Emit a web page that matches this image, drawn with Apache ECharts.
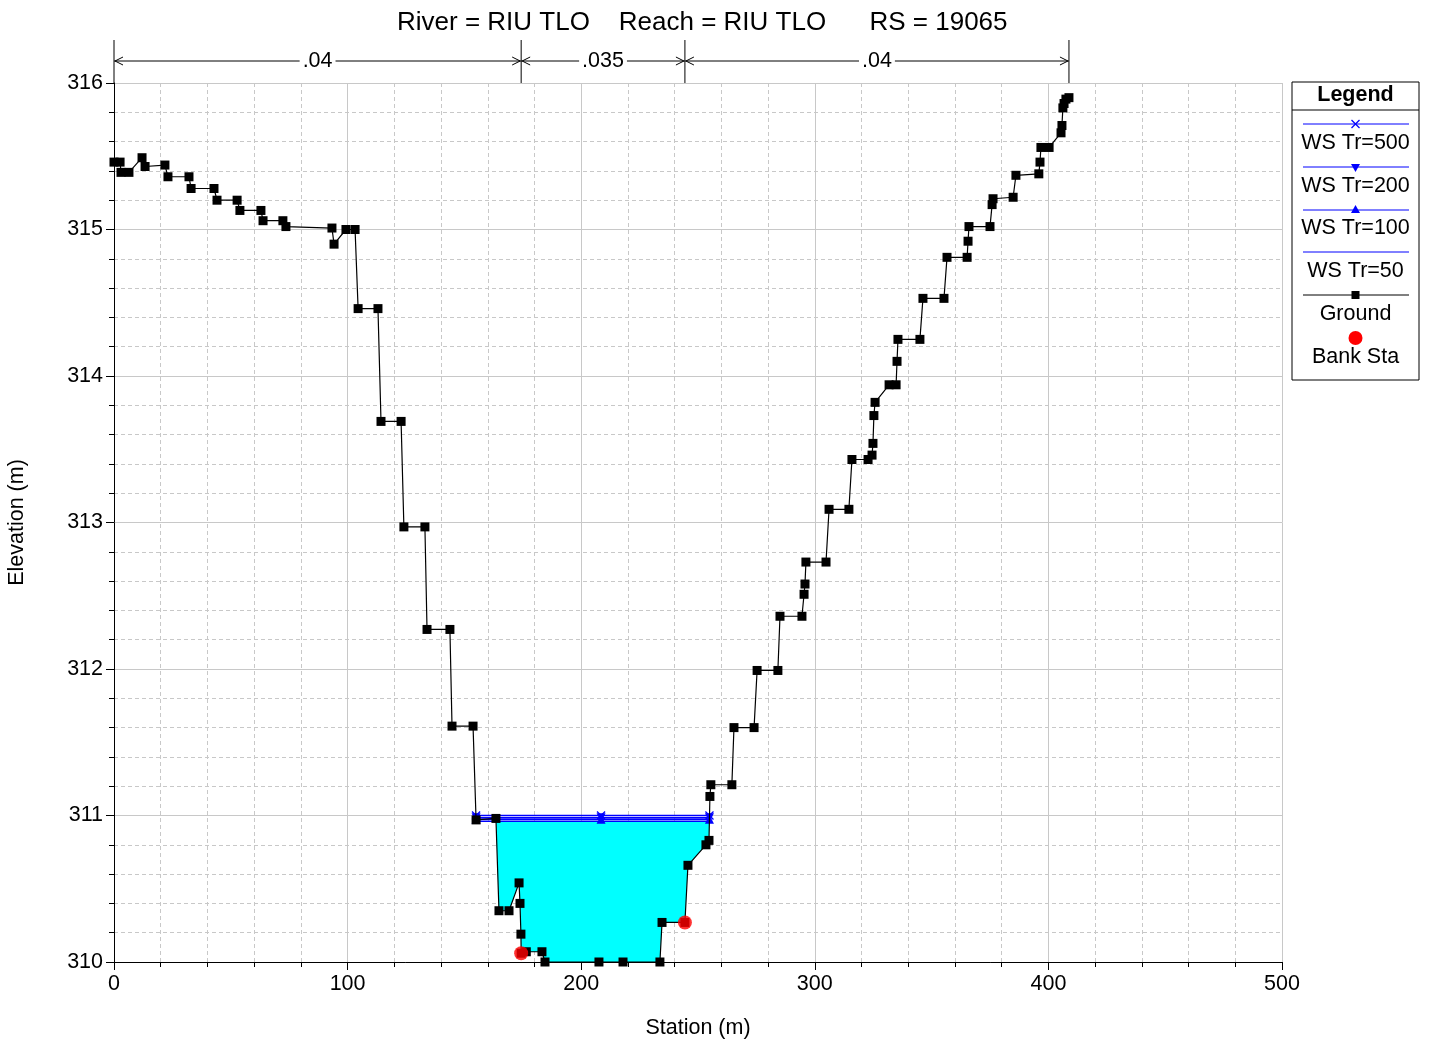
<!DOCTYPE html>
<html>
<head>
<meta charset="utf-8">
<script src="https://cdn.jsdelivr.net/npm/echarts@6/dist/echarts.min.js"></script>
<style>html,body{margin:0;background:#fff}#main{width:1430px;height:1044px}</style>
</head>
<body>
<div id="main"></div>
<script>
// ground profile (station m, elevation m)
var groundSta = [0, 2.6, 3.0, 6.4, 12.0, 13.3, 21.8, 23.1, 32.1, 33.0, 42.8, 44.1, 52.7, 53.9, 62.9, 63.8,
	72.3, 73.6, 93.3, 94.2, 99.3, 103.2, 104.5, 113.0, 114.3, 122.9, 124.1, 133.1, 134.0, 143.8, 144.7, 153.7,
	155.0, 163.5, 164.8, 169.1, 173.4, 173.8, 174.2, 174.3, 176.5, 183.2, 184.5, 207.6, 217.9, 233.7, 234.6,
	244.4, 245.7, 253.4, 254.7, 255.1, 255.5, 264.5, 265.4, 274.0, 275.3, 284.2, 285.1, 294.5, 295.4, 295.8,
	296.2, 304.8, 306.1, 314.6, 315.9, 322.8, 324.5, 324.9, 325.3, 325.8, 331.8, 334.8, 335.2, 335.6, 345.0,
	346.3, 355.3, 356.6, 365.2, 365.6, 366.0, 375.0, 375.9, 376.3, 384.9, 386.1, 395.9, 396.4, 396.8, 400.3,
	405.4, 405.8, 406.2, 406.7, 407.5, 408.8];
var groundElev = [315.46, 315.46, 315.39, 315.39, 315.49, 315.43, 315.44, 315.36, 315.36, 315.28, 315.28, 315.20, 315.20, 315.13, 315.13, 315.06,
	315.06, 315.02, 315.01, 314.90, 315.00, 315.00, 314.46, 314.46, 313.69, 313.69, 312.97, 312.97, 312.27, 312.27, 311.61, 311.61,
	310.97, 310.98, 310.35, 310.35, 310.54, 310.40, 310.19, 310.06, 310.07, 310.07, 310.00, 310.00, 310.00, 310.00, 310.27,
	310.27, 310.66, 310.80, 310.83, 311.13, 311.21, 311.21, 311.60, 311.60, 311.99, 311.99, 312.36, 312.36, 312.51, 312.58,
	312.73, 312.73, 313.09, 313.09, 313.43, 313.43, 313.46, 313.54, 313.73, 313.82, 313.94, 313.94, 314.10, 314.25, 314.25,
	314.53, 314.53, 314.81, 314.81, 314.92, 315.02, 315.02, 315.17, 315.21, 315.22, 315.37, 315.38, 315.46, 315.56, 315.56,
	315.66, 315.71, 315.83, 315.86, 315.89, 315.90];

var bankSta = [174.3, 244.4];
var bankElev = [310.06, 310.27];

// water surfaces
var wsNames = ['WS Tr=500', 'WS Tr=200', 'WS Tr=100', 'WS Tr=50'];
var wsElev = [311.00, 310.985, 310.975, 310.96];
var wsSta = [155.0, 208.5, 254.9];

// Manning's n between bank stations
var nValues = ['.04', '.035', '.04'];

var xTicks = [0, 100, 200, 300, 400, 500];
var yTicks = [310, 311, 312, 313, 314, 315, 316];

var FONT = 'Liberation Sans, Arial, sans-serif';
var FS = 21.5;

var dom = document.getElementById('main');
var myChart = echarts.init(dom);

var groundData = groundSta.map(function(s, i) { return [s, groundElev[i]]; });

// water polygon for the lowest profile, between the ground crossings around the thalweg
function waterPolygon(level) {
	var iMin = 0;
	for (var i = 1; i < groundElev.length; i++) {
		if (groundElev[i] < groundElev[iMin]) iMin = i;
	}
	var l = iMin, r = iMin;
	while (l > 0 && groundElev[l - 1] < level) l--;
	while (r < groundElev.length - 1 && groundElev[r + 1] < level) r++;
	function cross(a, b) {
		var t = (level - groundElev[a]) / (groundElev[b] - groundElev[a]);
		return groundSta[a] + t * (groundSta[b] - groundSta[a]);
	}
	var pts = [[cross(l, l - 1), level]];
	for (var k = l; k <= r; k++) pts.push([groundSta[k], groundElev[k]]);
	pts.push([cross(r, r + 1), level]);
	return pts;
}
var waterPts = waterPolygon(wsElev[3]);

var xSym = 'path://M0,1L1,0L5,4L9,0L10,1L6,5L10,9L9,10L5,6L1,10L0,9L4,5Z';
var wsSymbols = [xSym, 'triangle', 'triangle', 'none'];
var wsRotate = [0, 180, 0, 0];

var wsSeries = wsNames.map(function(name, i) {
	return {
		name: name,
		type: 'line',
		data: wsSta.map(function(s) { return [s, wsElev[i]]; }),
		symbol: wsSymbols[i],
		symbolRotate: wsRotate[i],
		symbolSize: 9,
		showSymbol: true,
		lineStyle: { color: '#0000ff', width: 1.5 },
		itemStyle: { color: '#0000ff' },
		z: 4
	};
});

var option = {
	animation: false,
	title: {
		text: 'River = RIU TLO    Reach = RIU TLO      RS = 19065',
		left: 392,
		top: 5,
		textStyle: { fontFamily: FONT, fontSize: 26, fontWeight: 'normal', color: '#000' }
	},
	grid: { left: 114, right: 148, top: 83, bottom: 82, containLabel: false, outerBoundsMode: 'none' },
	xAxis: {
		type: 'value',
		min: 0,
		max: 500,
		interval: 100,
		name: 'Station (m)',
		nameLocation: 'middle',
		nameGap: 55,
		nameTextStyle: { fontFamily: FONT, fontSize: FS, color: '#000' },
		axisLine: { lineStyle: { color: '#000', width: 1 } },
		axisTick: { show: true, length: 8, lineStyle: { color: '#000' } },
		minorTick: { show: true, splitNumber: 5, length: 5, lineStyle: { color: '#000' } },
		axisLabel: { fontFamily: FONT, fontSize: FS, color: '#000', margin: 11 },
		splitLine: { show: true, lineStyle: { color: '#c8c8c8', width: 1 } },
		minorSplitLine: { show: true, lineStyle: { color: '#c8c8c8', type: [4, 3], width: 1 } }
	},
	yAxis: {
		type: 'value',
		min: 310,
		max: 316,
		interval: 1,
		name: 'Elevation (m)',
		nameLocation: 'middle',
		nameRotate: 90,
		nameGap: 86,
		nameTextStyle: { fontFamily: FONT, fontSize: FS, color: '#000' },
		axisLine: { show: true, lineStyle: { color: '#000', width: 1 } },
		axisTick: { show: true, length: 8, lineStyle: { color: '#000' } },
		minorTick: { show: true, splitNumber: 5, length: 5, lineStyle: { color: '#000' } },
		axisLabel: { fontFamily: FONT, fontSize: FS, color: '#000', margin: 11 },
		splitLine: { show: true, lineStyle: { color: '#c8c8c8', width: 1 } },
		minorSplitLine: { show: true, lineStyle: { color: '#c8c8c8', type: [4, 3], width: 1 } }
	},
	series: [{
			name: 'water',
			type: 'custom',
			silent: true,
			data: [waterPts[0]],
			renderItem: function(params, api) {
				return {
					type: 'polygon',
					shape: { points: waterPts.map(function(p) { return api.coord(p); }) },
					style: { fill: '#00ffff' }
				};
			},
			z: 1
		}]
		.concat(wsSeries.slice().reverse())
		.concat([{
			name: 'Ground',
			type: 'line',
			data: groundData,
			symbol: 'rect',
			symbolSize: 9,
			showSymbol: true,
			showAllSymbol: true,
			lineStyle: { color: '#000', width: 1.2 },
			itemStyle: { color: '#000' },
			z: 5
		}, {
			name: 'Bank Sta',
			type: 'scatter',
			data: bankSta.map(function(s, i) { return [s, bankElev[i]]; }),
			symbol: 'circle',
			symbolSize: 14,
			itemStyle: { color: '#ff0000' },
			z: 6
		}])
};
myChart.setOption(option, true);

// reach lines with Manning's n above the plot, and the legend box
var graphics = [];
var reachSta = [groundSta[0], bankSta[0], bankSta[1], groundSta[groundSta.length - 1]];
var reachX = reachSta.map(function(s) { return myChart.convertToPixel({ gridIndex: 0 }, [s, 316])[0]; });
var topY = myChart.convertToPixel({ gridIndex: 0 }, [0, 316])[1];
var arrowY = 61;

reachX.forEach(function(x) {
	graphics.push({ type: 'line', shape: { x1: x, y1: 40, x2: x, y2: topY }, style: { stroke: '#000', lineWidth: 1 } });
});
for (var i = 0; i < nValues.length; i++) {
	var xa = reachX[i], xb = reachX[i + 1];
	graphics.push({ type: 'line', shape: { x1: xa, y1: arrowY, x2: xb, y2: arrowY }, style: { stroke: '#000', lineWidth: 1 } });
	graphics.push({ type: 'polyline', shape: { points: [[xa + 9, arrowY - 4], [xa + 1, arrowY], [xa + 9, arrowY + 4]] }, style: { stroke: '#000', lineWidth: 1, fill: null } });
	graphics.push({ type: 'polyline', shape: { points: [[xb - 9, arrowY - 4], [xb - 1, arrowY], [xb - 9, arrowY + 4]] }, style: { stroke: '#000', lineWidth: 1, fill: null } });
	graphics.push({
		type: 'text',
		x: (xa + xb) / 2,
		y: arrowY,
		style: {
			text: nValues[i], font: FS + 'px ' + FONT, fill: '#000',
			align: 'center', verticalAlign: 'middle',
			backgroundColor: '#fff', padding: [0, 3]
		},
		z: 10
	});
}

var lgX = 1292, lgY = 82, lgW = 127, lgH = 298, lgC = lgX + lgW / 2;
graphics.push({ type: 'rect', shape: { x: lgX, y: lgY, width: lgW, height: lgH }, style: { fill: '#fff', stroke: '#000', lineWidth: 1 } });
graphics.push({ type: 'text', x: lgC, y: 95, style: { text: 'Legend', font: 'bold ' + FS + 'px ' + FONT, fill: '#000', align: 'center', verticalAlign: 'middle' } });
graphics.push({ type: 'line', shape: { x1: lgX, y1: 110, x2: lgX + lgW, y2: 110 }, style: { stroke: '#000', lineWidth: 1 } });

var lineYs = [124, 167, 210, 252, 295];
var labelYs = [143, 186, 228, 271, 314];
var legendNames = wsNames.concat(['Ground']);
legendNames.forEach(function(name, i) {
	var ly = lineYs[i];
	var col = i < 4 ? '#0000ff' : '#000';
	graphics.push({ type: 'line', shape: { x1: 1303, y1: ly, x2: 1409, y2: ly }, style: { stroke: col, lineWidth: 1 } });
	if (i === 0) {
		graphics.push({ type: 'line', shape: { x1: lgC - 4, y1: ly - 4, x2: lgC + 4, y2: ly + 4 }, style: { stroke: col, lineWidth: 1.2 } });
		graphics.push({ type: 'line', shape: { x1: lgC - 4, y1: ly + 4, x2: lgC + 4, y2: ly - 4 }, style: { stroke: col, lineWidth: 1.2 } });
	} else if (i === 1) {
		graphics.push({ type: 'polygon', shape: { points: [[lgC - 4.5, ly - 3], [lgC + 4.5, ly - 3], [lgC, ly + 5]] }, style: { fill: col } });
	} else if (i === 2) {
		graphics.push({ type: 'polygon', shape: { points: [[lgC - 4.5, ly + 3], [lgC + 4.5, ly + 3], [lgC, ly - 5]] }, style: { fill: col } });
	} else if (i === 4) {
		graphics.push({ type: 'rect', shape: { x: lgC - 4, y: ly - 4, width: 8, height: 8 }, style: { fill: col } });
	}
	graphics.push({ type: 'text', x: lgC, y: labelYs[i], style: { text: name, font: FS + 'px ' + FONT, fill: '#000', align: 'center', verticalAlign: 'middle' } });
});
graphics.push({ type: 'circle', shape: { cx: lgC, cy: 338, r: 7 }, style: { fill: '#ff0000' } });
graphics.push({ type: 'text', x: lgC, y: 357, style: { text: 'Bank Sta', font: FS + 'px ' + FONT, fill: '#000', align: 'center', verticalAlign: 'middle' } });

myChart.setOption({ graphic: graphics });
</script>
</body>
</html>
